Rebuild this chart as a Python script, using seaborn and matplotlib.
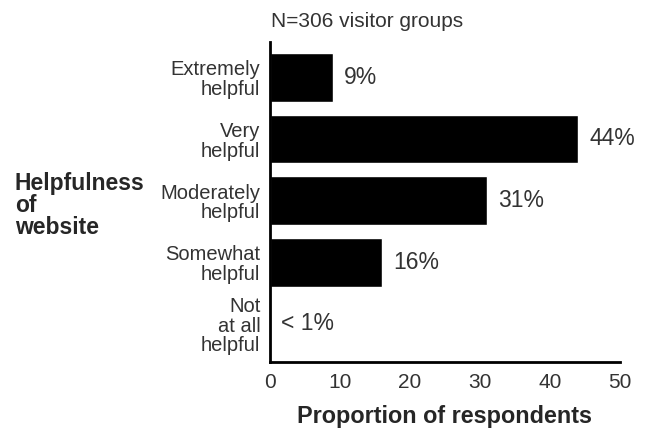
import matplotlib
matplotlib.use("Agg")
import matplotlib.pyplot as plt
import seaborn as sns
import pandas as pd

categories = ["Extremely\nhelpful", "Very\nhelpful", "Moderately\nhelpful",
              "Somewhat\nhelpful", "Not\nat all\nhelpful"]
values = [9, 44, 31, 16, 0]
value_labels = ["9%", "44%", "31%", "16%", "< 1%"]
x_ticks = [0, 10, 20, 30, 40, 50]

sns.set_style("white")
plt.rcParams['font.family'] = ['Liberation Sans', 'DejaVu Sans']

df = pd.DataFrame({"category": categories, "value": values})

fig = plt.figure(figsize=(6.48, 4.30), dpi=100)
ax = fig.add_axes([0.4167, 0.158, 0.540, 0.744])

sns.barplot(data=df, x="value", y="category", orient="h", color="black",
            width=0.79, saturation=1, ax=ax)

# percentage labels to the right of each bar
for i, (v, lab) in enumerate(zip(values, value_labels)):
    ax.text(v + 1.6, i, lab, va="center", ha="left", fontsize=16.5, color="#333333")

ax.set_xlim(0, 50)
ax.set_ylim(4.62, -0.57)
ax.set_xticks(x_ticks)
ax.set_xticklabels([str(t) for t in x_ticks], fontsize=15, color="#333333")
ax.tick_params(axis="x", direction="out", length=5, width=1.5, color="black", pad=3)
ax.tick_params(axis="y", length=0, pad=7, labelsize=14.5, labelcolor="#333333")
for lab in ax.get_yticklabels():
    lab.set_horizontalalignment("right")
    lab.set_linespacing(1.05)

for side in ["top", "right"]:
    ax.spines[side].set_visible(False)
for side in ["left", "bottom"]:
    ax.spines[side].set_linewidth(2)
    ax.spines[side].set_color("black")

ax.set_ylabel("")
ax.set_xlabel("Proportion of respondents", fontsize=16.8, fontweight="bold", labelpad=9)
fig.text(0.023, 0.523, "Helpfulness\nof\nwebsite", fontsize=16.5, fontweight="bold",
         ha="left", va="center", linespacing=0.95)
fig.text(0.418, 0.949, "N=306 visitor groups", fontsize=15, color="#333333",
         ha="left", va="center")

fig.savefig("out.png", dpi=100, facecolor="white")
